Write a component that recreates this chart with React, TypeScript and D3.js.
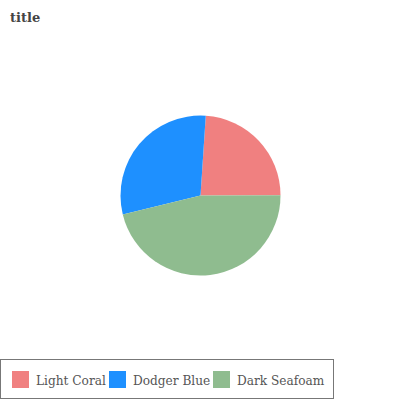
import * as React from "react";
import * as d3 from "d3";

const categories = ["Light Coral", "Dodger Blue", "Dark Seafoam"];
const values = [16, 20, 31];
const colors = ["#f08080", "#1e90ff", "#8fbc8f"];
// clockwise order as drawn in the picture
const drawOrder = ["Light Coral", "Dark Seafoam", "Dodger Blue"];

export default function App() {
  const ref = React.useRef<SVGSVGElement>(null);

  React.useEffect(() => {
    const svg = d3.select(ref.current);
    svg.selectAll("*").remove();

    const data = categories.map((c, i) => ({ name: c, value: values[i], color: colors[i] }));
    const startOffset = 0.066;
    const pie = d3
      .pie<any>()
      .value((d) => d.value)
      .sort((a, b) => drawOrder.indexOf(a.name) - drawOrder.indexOf(b.name))
      .startAngle(startOffset)
      .endAngle(startOffset + Math.PI * 2);
    const arc = d3.arc<any>().innerRadius(0).outerRadius(80);

    svg
      .append("text")
      .attr("x", 10)
      .attr("y", 21.5)
      .style("font-family", "DejaVu Serif")
      .style("font-weight", "bold")
      .style("font-size", "13px")
      .style("fill", "#444")
      .text("title");

    const g = svg.append("g").attr("transform", "translate(200.5,195.5)");
    g.selectAll("path")
      .data(pie(data))
      .enter()
      .append("path")
      .attr("d", arc)
      .style("fill", (d) => d.data.color);

    const legend = svg.append("g");
    legend
      .append("rect")
      .attr("x", 0.5)
      .attr("y", 359.5)
      .attr("width", 333)
      .attr("height", 39)
      .style("fill", "white")
      .style("stroke", "#777")
      .style("stroke-width", 1);

    const xs = [12, 109, 213];
    const items = legend
      .selectAll(".item")
      .data(data)
      .enter()
      .append("g")
      .attr("transform", (d, i) => "translate(" + xs[i] + ",0)");
    items
      .append("rect")
      .attr("x", 0)
      .attr("y", 371)
      .attr("width", 17)
      .attr("height", 17)
      .style("fill", (d) => d.color);
    items
      .append("text")
      .attr("x", 24)
      .attr("y", 384.5)
      .style("font-family", "'DejaVu Serif Condensed', 'DejaVu Serif'")
      .style("font-stretch", "condensed")
      .style("font-size", "13.5px")
      .style("fill", "#555")
      .text((d) => d.name);
  }, []);

  return (
    <svg
      ref={ref}
      width={400}
      height={400}
      style={{ position: "absolute", left: 0, top: 0 }}
    />
  );
}
